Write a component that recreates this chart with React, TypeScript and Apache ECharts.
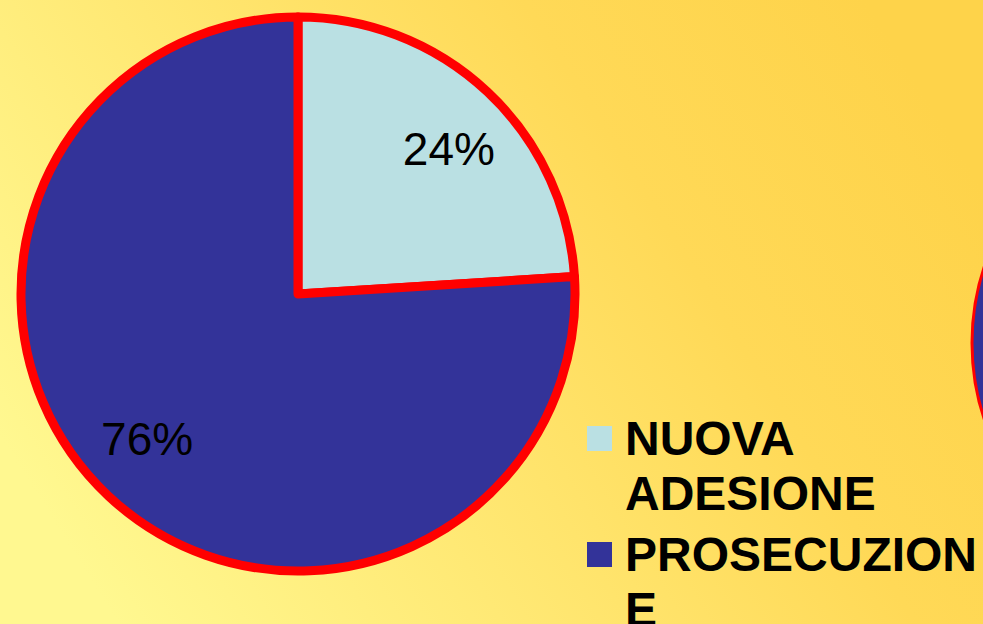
import React, { useEffect, useRef } from 'react';
import * as echarts from 'echarts';

const FONT = '"Liberation Sans", Arial, Helvetica, sans-serif';

const categories = ['NUOVA ADESIONE', 'PROSECUZIONE'];
const values = [24, 76];
const sliceColors = ['#BAE0E3', '#333399'];
const legendLines = [
  ['NUOVA', 'ADESIONE'],
  ['PROSECUZION', 'E'],
];

export default function App() {
  const ref = useRef<HTMLDivElement>(null);

  useEffect(() => {
    if (!ref.current) return;
    const chart = echarts.init(ref.current, null, { renderer: 'svg' });

    const pieData = categories.map((name, i) => ({
      name,
      value: values[i],
      itemStyle: { color: sliceColors[i] },
    }));
    const labelData = categories.map((name, i) => ({ name, value: values[i] }));

    const rich: any = {
      t: { fontSize: 48, fontWeight: 'bold', fontFamily: FONT, color: '#000', lineHeight: 55 },
      g: { width: 13, lineHeight: 55 },
      ind: { width: 38, lineHeight: 55 },
    };
    categories.forEach((_, i) => {
      rich['sq' + i] = { width: 25, height: 25, backgroundColor: sliceColors[i], lineHeight: 55 };
    });

    const option: any = {
      animation: false,
      backgroundColor: {
        type: 'linear',
        x: 0,
        y: 0.7,
        x2: 1,
        y2: 0.3,
        colorStops: [
          { offset: 0, color: '#FFF890' },
          { offset: 0.45, color: '#FFE46C' },
          { offset: 0.7, color: '#FFD957' },
          { offset: 1, color: '#FED34A' },
        ],
      },
      legend: {
        orient: 'vertical',
        left: 582,
        top: 411,
        width: 400,
        height: 320,
        padding: 0,
        itemGap: 6,
        icon: 'none',
        itemWidth: 0,
        itemHeight: 0,
        selectedMode: false,
        data: categories,
        formatter: (name: string) => {
          const i = categories.indexOf(name);
          return legendLines[i]
            .map((l, k) => (k === 0 ? `{sq${i}|}{g|}` : '{ind|}') + `{t|${l}}`)
            .join('\n');
        },
        textStyle: {
          fontSize: 48,
          fontWeight: 'bold',
          fontFamily: FONT,
          color: '#000',
          lineHeight: 55,
          rich,
        },
      },
      graphic: [
        {
          type: 'circle',
          silent: true,
          shape: { cx: 1212, cy: 343, r: 240 },
          style: { fill: '#333399', stroke: '#FF0000', lineWidth: 3 },
        },
      ],
      series: [
        {
          type: 'pie',
          center: [298, 294],
          radius: [0, 277],
          startAngle: 90,
          clockwise: true,
          silent: true,
          data: pieData,
          label: { show: false },
          labelLine: { show: false },
          itemStyle: { borderColor: '#FF0000', borderWidth: 9 },
          emphasis: { disabled: true },
        },
        {
          type: 'pie',
          center: [298, 294],
          radius: [0, 412],
          startAngle: 87,
          clockwise: true,
          silent: true,
          avoidLabelOverlap: false,
          data: labelData,
          itemStyle: { color: 'rgba(0,0,0,0)', borderWidth: 0 },
          label: {
            show: true,
            position: 'inside',
            formatter: '{d}%',
            fontSize: 46,
            fontFamily: FONT,
            color: '#000',
            textBorderWidth: 0,
          },
          labelLine: { show: false },
          emphasis: { disabled: true },
        },
      ],
    };

    chart.setOption(option);
    return () => chart.dispose();
  }, []);

  return (
    <div
      ref={ref}
      style={{ position: 'fixed', left: 0, top: 0, width: 983, height: 624 }}
    />
  );
}
